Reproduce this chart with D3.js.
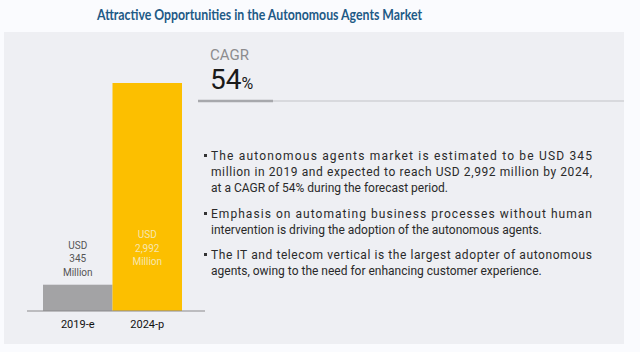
<!DOCTYPE html>
<html>
<head>
<meta charset="utf-8">
<script src="https://cdn.jsdelivr.net/npm/d3@7"></script>
<style>
  body { margin: 0; background: #fafbfe; }
  svg { display: block; }
</style>
</head>
<body>
<svg id="chart"></svg>
<script>
const years = ['2019-e', '2024-p']
const values = [345, 2992]
const barLabels = [['USD', '345', 'Million'], ['USD', '2,992', 'Million']]
const cagr = '54'
const title = 'Attractive Opportunities in the Autonomous Agents Market'
// each bullet: lines, and whether a line is justified to full width
const bullets = [
  [['The autonomous agents market is estimated to be USD 345', true],
   ['million in 2019 and expected to reach USD 2,992 million by 2024,', true],
   ['at a CAGR of 54% during the forecast period.', false]],
  [['Emphasis on automating business processes without human', true],
   ['intervention is driving the adoption of the autonomous agents.', false]],
  [['The IT and telecom vertical is the largest adopter of autonomous', true],
   ['agents, owing to the need for enhancing customer experience.', false]]
]

const width = 640
const height = 352
const svg = d3.select('#chart').attr('width', width).attr('height', height)

svg.append('rect').attr('width', width).attr('height', height).attr('fill', '#fafbfe')

// title
svg.append('text')
  .attr('x', 97).attr('y', 20)
  .attr('textLength', 325).attr('lengthAdjust', 'spacingAndGlyphs')
  .attr('font-family', 'Lato, sans-serif')
  .attr('font-weight', 'bold')
  .attr('font-size', 15)
  .attr('fill', '#1e5a86')
  .text(title)

// panel
svg.append('rect')
  .attr('x', 4).attr('y', 32).attr('width', 620).attr('height', 312)
  .attr('fill', '#eeeff3')

// bars
const x = d3.scaleBand().domain(years).range([43, 182]).padding(0)
const y = d3.scaleLinear().domain([0, 2992]).range([311, 83])
const colors = ['#a3a3a5', '#fcbf00']

svg.selectAll('rect.bar')
  .data(values)
  .enter()
  .append('rect')
  .attr('class', 'bar')
  .attr('x', (d, i) => x(years[i]))
  .attr('y', d => y(d))
  .attr('width', x.bandwidth())
  .attr('height', d => y(0) - y(d))
  .attr('fill', (d, i) => colors[i])

// baseline
svg.append('line')
  .attr('x1', 27).attr('x2', 205)
  .attr('y1', y(0)).attr('y2', y(0))
  .attr('stroke', '#8a8a8c').attr('stroke-width', 1.2)

// category labels
svg.selectAll('text.year')
  .data(years)
  .enter()
  .append('text')
  .attr('class', 'year')
  .attr('x', d => x(d) + x.bandwidth() / 2)
  .attr('y', 328)
  .attr('text-anchor', 'middle')
  .attr('font-family', 'Roboto, sans-serif')
  .attr('font-size', 11)
  .attr('fill', '#111')
  .text(d => d)

// value labels
const labelTops = [y(values[0]) - 40, 234]
const labelColors = ['#555', '#f6e6b0']
barLabels.forEach((lines, i) => {
  lines.forEach((t, j) => {
    svg.append('text')
      .attr('x', x(years[i]) + x.bandwidth() / 2)
      .attr('y', labelTops[i] + j * 13.5 + 4)
      .attr('text-anchor', 'middle')
      .attr('font-family', 'Roboto, sans-serif')
      .attr('font-size', 10)
      .attr('fill', labelColors[i])
      .text(t)
  })
})

// CAGR block
svg.append('text')
  .attr('x', 210).attr('y', 60)
  .attr('font-family', 'Roboto, sans-serif')
  .attr('font-size', 15)
  .attr('fill', '#8c8c8e')
  .text('CAGR')

const cagrText = svg.append('text')
  .attr('x', 210).attr('y', 89)
  .attr('font-family', 'Roboto, sans-serif')
  .attr('fill', '#1a1a1a')
cagrText.append('tspan').attr('font-size', 28).text(cagr)
cagrText.append('tspan').attr('font-size', 16).text('%')

svg.append('line')
  .attr('x1', 198).attr('x2', 624).attr('y1', 101).attr('y2', 101)
  .attr('stroke', '#d8d9dd').attr('stroke-width', 2)
svg.append('line')
  .attr('x1', 198).attr('x2', 273).attr('y1', 101).attr('y2', 101)
  .attr('stroke', '#a7a8ac').attr('stroke-width', 2.5)

// bullets
const bulletTops = [160, 218, 259]
const textX = 211
const textRight = 592
bullets.forEach((lines, i) => {
  svg.append('rect')
    .attr('x', 204).attr('y', bulletTops[i] - 6)
    .attr('width', 3).attr('height', 3)
    .attr('fill', '#333')
  lines.forEach(([t, just], j) => {
    const el = svg.append('text')
      .attr('x', textX)
      .attr('y', bulletTops[i] + j * 16)
      .attr('font-family', 'Roboto, sans-serif')
      .attr('font-size', 12)
      .attr('fill', '#2a2a2a')
      .text(t)
    if (just) el.attr('textLength', textRight - textX).attr('lengthAdjust', 'spacing')
  })
})
</script>
</body>
</html>
